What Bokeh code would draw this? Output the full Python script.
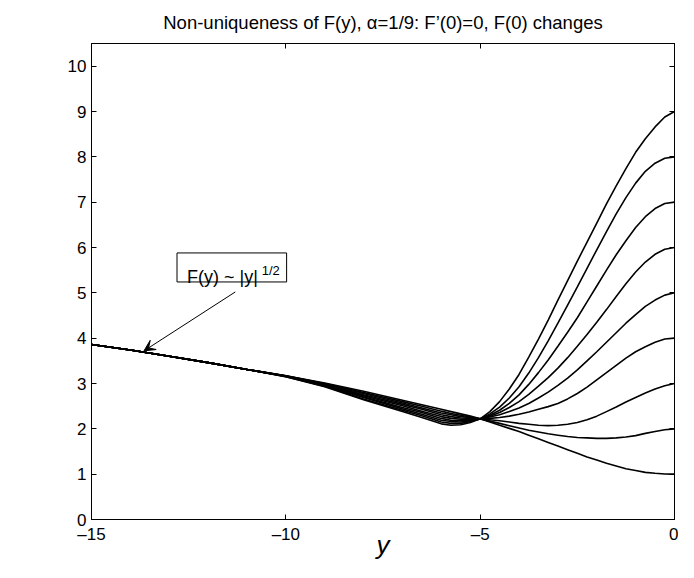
from bokeh.plotting import figure
from bokeh.models import (LinearAxis, FixedTicker, Range1d, Label, BoxAnnotation, Arrow,
                          VeeHead, CustomLabelingPolicy)
from bokeh.embed import file_html
from bokeh.resources import INLINE

FONT = "Liberation Sans"

TITLE = "Non-uniqueness of F(y), \u03b1=1/9: F\u2019(0)=0, F(0) changes"

# sample positions along y (horizontal axis)
Y_GRID = [-15, -14, -13, -12, -11, -10, -9, -8, -7, -6.5,
          -6, -5.75, -5.5, -5.25, -5,
          -4.75, -4.5, -4.25, -4, -3.75, -3.5, -3.25, -3, -2.75, -2.5,
          -2.25, -2, -1.75, -1.5, -1.25, -1, -0.75, -0.5, -0.25, 0]

# F(y) curves, labelled by F(0)
F_1 = [3.86, 3.74, 3.60, 3.46, 3.31, 3.17, 3.01, 2.83, 2.63, 2.53,
       2.43, 2.38, 2.33, 2.28, 2.22,
       2.15, 2.08, 2.01, 1.94, 1.86, 1.78, 1.70, 1.62, 1.54, 1.46,
       1.38, 1.31, 1.24, 1.18, 1.12, 1.08, 1.04, 1.02, 1.005, 1.00]
F_2 = [3.86, 3.74, 3.60, 3.46, 3.31, 3.17, 3.00, 2.80, 2.60, 2.50,
       2.39, 2.34, 2.30, 2.26, 2.22,
       2.17, 2.12, 2.07, 2.02, 1.97, 1.93, 1.89, 1.86, 1.83, 1.81,
       1.80, 1.79, 1.79, 1.80, 1.82, 1.85, 1.90, 1.94, 1.98, 2.00]
F_3 = [3.86, 3.74, 3.60, 3.46, 3.31, 3.17, 2.99, 2.78, 2.57, 2.46,
       2.35, 2.31, 2.27, 2.25, 2.22,
       2.20, 2.18, 2.15, 2.12, 2.10, 2.08, 2.07, 2.08, 2.10, 2.14,
       2.20, 2.28, 2.38, 2.48, 2.59, 2.69, 2.79, 2.88, 2.95, 3.00]
F_4 = [3.86, 3.74, 3.60, 3.46, 3.31, 3.16, 2.98, 2.75, 2.54, 2.43,
       2.31, 2.27, 2.24, 2.23, 2.22,
       2.23, 2.25, 2.28, 2.32, 2.37, 2.43, 2.49, 2.56, 2.66, 2.78,
       2.92, 3.08, 3.24, 3.40, 3.56, 3.70, 3.81, 3.91, 3.98, 4.00]
F_5 = [3.86, 3.74, 3.60, 3.46, 3.31, 3.16, 2.97, 2.73, 2.51, 2.39,
       2.27, 2.23, 2.21, 2.21, 2.22,
       2.26, 2.31, 2.38, 2.46, 2.56, 2.68, 2.81, 2.96, 3.12, 3.30,
       3.50, 3.70, 3.91, 4.12, 4.33, 4.52, 4.70, 4.84, 4.95, 5.00]
F_6 = [3.86, 3.74, 3.60, 3.46, 3.31, 3.16, 2.96, 2.71, 2.47, 2.36,
       2.23, 2.19, 2.18, 2.19, 2.22,
       2.28, 2.36, 2.47, 2.60, 2.76, 2.94, 3.13, 3.34, 3.57, 3.82,
       4.08, 4.35, 4.63, 4.92, 5.20, 5.46, 5.68, 5.85, 5.96, 6.00]
F_7 = [3.86, 3.74, 3.60, 3.46, 3.31, 3.16, 2.95, 2.69, 2.44, 2.32,
       2.19, 2.16, 2.15, 2.18, 2.22,
       2.30, 2.41, 2.56, 2.75, 2.98, 3.24, 3.52, 3.82, 4.13, 4.45,
       4.80, 5.15, 5.50, 5.84, 6.15, 6.44, 6.68, 6.86, 6.97, 7.00]
F_8 = [3.86, 3.74, 3.60, 3.46, 3.31, 3.15, 2.94, 2.66, 2.41, 2.29,
       2.15, 2.12, 2.12, 2.16, 2.22,
       2.33, 2.48, 2.68, 2.93, 3.23, 3.57, 3.94, 4.33, 4.73, 5.13,
       5.54, 5.95, 6.35, 6.74, 7.10, 7.42, 7.68, 7.86, 7.97, 8.00]
F_9 = [3.86, 3.74, 3.60, 3.46, 3.31, 3.15, 2.93, 2.64, 2.38, 2.25,
       2.11, 2.08, 2.09, 2.14, 2.22,
       2.38, 2.60, 2.88, 3.20, 3.58, 3.98, 4.40, 4.84, 5.27, 5.70,
       6.12, 6.54, 6.96, 7.36, 7.74, 8.10, 8.40, 8.66, 8.88, 9.00]

CURVES = [F_1, F_2, F_3, F_4, F_5, F_6, F_7, F_8, F_9]

X_TICKS = [-15, -10, -5, 0]
X_TICK_LABELS = ["\u201315", "\u201310", "\u20135", "0"]
Y_TICKS = [0, 1, 2, 3, 4, 5, 6, 7, 8, 9, 10]
Y_TICK_LABELS = ["0", "1", "2", "3", "4", "5", "6", "7", "8", "9", "10"]

X_LABEL = "y"
Y_LABEL = "F(y)"
NOTE_TEXT = "F(y) ~ |y|"
NOTE_SUP = "1/2"

p = figure(width=678, height=562, output_backend="svg", toolbar_location=None,
           x_range=Range1d(-15, 0), y_range=Range1d(0, 10.5),
           x_axis_location=None, y_axis_location=None,
           min_border_left=91, min_border_right=1,
           min_border_top=43, min_border_bottom=43)

p.grid.visible = False
p.title.text = TITLE
p.title.align = "center"
p.title.text_font = FONT
p.title.text_font_size = "18.5px"
p.title.text_font_style = "normal"
p.title.text_color = "black"
p.title.standoff = 13

p.outline_line_color = "black"
p.outline_line_alpha = 1.0
p.outline_line_width = 1
p.background_fill_color = "white"
p.border_fill_color = "white"


def make_axis(ticks, labels, show_labels):
    ax = LinearAxis(ticker=FixedTicker(ticks=ticks, minor_ticks=[]),
                    major_label_overrides={t: s for t, s in zip(ticks, labels)})
    ax.major_tick_in = 5
    ax.major_tick_out = 0
    ax.minor_tick_in = 0
    ax.minor_tick_out = 0
    ax.axis_line_color = "black"
    ax.axis_line_width = 1
    ax.major_tick_line_color = "black"
    ax.major_label_text_font = FONT
    ax.major_label_text_color = "black"
    if show_labels:
        ax.major_label_text_font_size = "17px"
        ax.major_label_standoff = 5
    else:
        ax.major_label_text_font_size = "1px"
        ax.major_label_standoff = 0
        ax.major_label_policy = CustomLabelingPolicy(code="return new Set()")
    return ax


x_axis = make_axis(X_TICKS, X_TICK_LABELS, True)
x_axis.axis_label = X_LABEL
x_axis.axis_label_text_font = FONT
x_axis.axis_label_text_font_size = "26px"
x_axis.axis_label_text_font_style = "italic"
x_axis.axis_label_text_color = "black"
x_axis.axis_label_standoff = -17

p.add_layout(x_axis, "below")
p.add_layout(make_axis(X_TICKS, X_TICK_LABELS, False), "above")
p.add_layout(make_axis(Y_TICKS, Y_TICK_LABELS, True), "left")
p.add_layout(make_axis(Y_TICKS, Y_TICK_LABELS, False), "right")

for f in CURVES:
    p.line(Y_GRID, f, line_color="black", line_width=1.6)

p.add_layout(Label(x=-15, y=5.3, x_offset=-30, text=Y_LABEL, text_align="right",
                   text_baseline="middle", text_font=FONT, text_font_size="28px",
                   text_color="black"))

p.add_layout(BoxAnnotation(left=-12.80, right=-9.98, bottom=5.24, top=5.88,
                           fill_color="white", fill_alpha=1.0,
                           line_color="black", line_width=1, line_alpha=1.0))
p.add_layout(Label(x=-12.54, y=5.35, text=NOTE_TEXT, text_align="left",
                   text_baseline="alphabetic", text_font=FONT, text_font_size="18px",
                   text_color="black"))
p.add_layout(Label(x=-10.62, y=5.50, text=NOTE_SUP, text_align="left",
                   text_baseline="alphabetic", text_font=FONT, text_font_size="13px",
                   text_color="black"))
p.add_layout(Arrow(end=VeeHead(size=11, fill_color="black", line_color="black", line_width=1),
                   x_start=-11.30, y_start=5.02, x_end=-13.65, y_end=3.72,
                   line_color="black", line_width=1))

open("out.html", "w").write(file_html(p, INLINE))
